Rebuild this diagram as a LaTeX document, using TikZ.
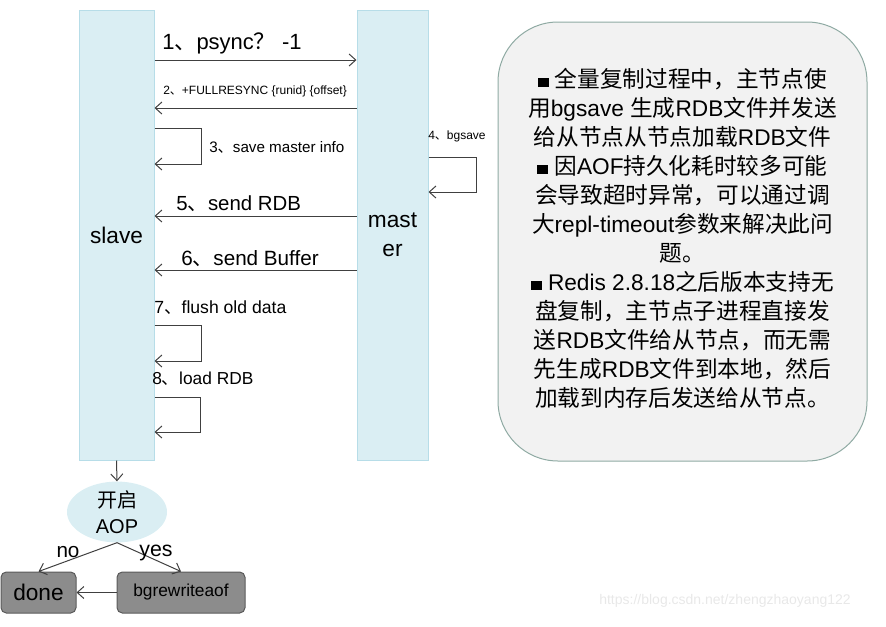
\documentclass[tikz,border=0pt]{standalone}
\usepackage{fontspec}
\setmainfont{Liberation Sans}
\newfontfamily\cjk{Noto Sans CJK SC}
\usetikzlibrary{arrows.meta,shapes.geometric}
\definecolor{colfill}{HTML}{DAEEF3}
\definecolor{colline}{HTML}{B7DDE8}
\definecolor{boxfill}{HTML}{8C8C8C}
\definecolor{boxline}{HTML}{5A5A5A}
\definecolor{notefill}{HTML}{F2F2F2}
\definecolor{noteline}{HTML}{8FAAA3}
\definecolor{arrcol}{HTML}{404040}
\definecolor{wmark}{HTML}{E8E8E8}
\newcommand\zh[1]{{\cjk #1}}
\newcommand\blt{\raisebox{0.5pt}{\rule{8pt}{7pt}}}
\newcommand\fsz[2]{\fontsize{#1}{#2}\selectfont}
\begin{document}
\begin{tikzpicture}[x=0.75pt,y=-0.75pt,
  col/.style={draw=colline, fill=colfill, line width=0.75pt, minimum height=337.5pt, inner sep=0pt, align=center},
  arr/.style={draw=arrcol, line width=0.75pt, -{Straight Barb[length=5pt,width=9pt]}},
  lbl/.style={inner sep=0pt, text=black},
  gbox/.style={draw=boxline, fill=boxfill, rounded corners=4pt, minimum height=30.75pt, inner sep=0pt, line width=0.75pt},
]
\useasboundingbox (0,0) rectangle (886,626);

% columns
\node[col, minimum width=56.25pt, font=\fsz{17pt}{21.75pt}] (slave) at (116.5,235) {slave};
\node[col, minimum width=53.25pt, font=\fsz{17pt}{21.75pt}] (master) at (392.5,235) {mast\\er};

% messages
\draw[arr] (slave.east |- 0,60) coordinate (m1s) -- (master.west |- 0,60) coordinate (m1e);
\node[lbl, anchor=west, font=\fsz{16.5pt}{18pt}] (l1) at (162,43) {1\zh{、}psync\zh{？} -1};

\draw[arr] (master.west |- 0,108) coordinate (m2s) -- (slave.east |- 0,108) coordinate (m2e);
\node[lbl, anchor=west, font=\fsz{9pt}{10pt}] (l2) at (163,91) {2\zh{、}+FULLRESYNC \{runid\} \{offset\}};

\draw[arr] (slave.east |- 0,128) coordinate (m3s) -- (201,128) -- (201,164) -- (slave.east |- 0,164) coordinate (m3e);
\node[lbl, anchor=west, font=\fsz{11.4pt}{13pt}] (l3) at (209,147) {3\zh{、}save master info};

\draw[arr] (master.east |- 0,157) coordinate (m4s) -- (476,157) -- (476,192) -- (master.east |- 0,192) coordinate (m4e);
\node[lbl, anchor=west, font=\fsz{9pt}{10pt}] (l4) at (428,136) {4\zh{、}bgsave};

\draw[arr] (master.west |- 0,216) coordinate (m5s) -- (slave.east |- 0,216) coordinate (m5e);
\node[lbl, anchor=west, font=\fsz{15.3pt}{17pt}] (l5) at (176,204) {5\zh{、}send RDB};

\draw[arr] (master.west |- 0,270) coordinate (m6s) -- (slave.east |- 0,270) coordinate (m6e);
\node[lbl, anchor=west, font=\fsz{15.5pt}{17pt}] (l6) at (181,259) {6\zh{、}send Buffer};

\node[lbl, anchor=west, font=\fsz{13.2pt}{15pt}] (l7) at (154,308) {7\zh{、}flush old data};
\draw[arr] (slave.east |- 0,325) coordinate (m7s) -- (201,325) -- (201,361) -- (slave.east |- 0,361) coordinate (m7e);

\node[lbl, anchor=west, font=\fsz{13pt}{15pt}] (l8) at (152,379) {8\zh{、}load RDB};
\draw[arr] (slave.east |- 0,397) coordinate (m8s) -- (200,397) -- (200,432) -- (slave.east |- 0,432) coordinate (m8e);

% decision part
\node[ellipse, fill=colfill, draw=none, minimum width=75pt, minimum height=37.5pt, inner sep=0pt, align=center, font=\fsz{15pt}{19.5pt}] (aop) at (117,512) {\zh{开启}\\AOP};
\draw[arr] (slave.south) -- (aop.north);

\node[gbox, minimum width=56.25pt, font=\fsz{17pt}{19pt}] (done) at (38.5,592.5) {done};
\node[gbox, minimum width=96pt, font=\fsz{13pt}{15pt}] (bgr) at (181,592.5) {bgrewriteaof};

\draw[arr] (aop.south) -- (done.north);
\draw[arr] (aop.south) -- (bgr.north);
\node[lbl, font=\fsz{15.5pt}{17pt}] (no) at (68,552) {no};
\node[lbl, font=\fsz{16pt}{18pt}] (yes) at (156,553) {yes};
\draw[arr] (bgr.west) -- (done.east);

% note
\node[draw=noteline, fill=notefill, line width=0.75pt, rounded corners=45pt, minimum width=276.75pt, minimum height=329.25pt, inner sep=0pt] (note) at (682.5,241.5) {};
\node[lbl, align=center, font=\fsz{17pt}{21.75pt}] (notetext) at (682.5,238.5) {%
\blt\ \zh{全量复制过程中，主节点使}\\
\zh{用}bgsave \zh{生成}RDB\zh{文件并发送}\\
\zh{给从节点从节点加载}RDB\zh{文件}\\
\blt\ \zh{因}AOF\zh{持久化耗时较多可能}\\
\zh{会导致超时异常，可以通过调}\\
\zh{大}repl-timeout\zh{参数来解决此问}\\
\zh{题。}\\
\blt\ Redis 2.8.18\zh{之后版本支持无}\\
\zh{盘复制，主节点子进程直接发}\\
\zh{送}RDB\zh{文件给从节点，而无需}\\
\zh{先生成}RDB\zh{文件到本地，然后}\\
\zh{加载到内存后发送给从节点。}};

\node[lbl, text=wmark, font=\fsz{10.5pt}{12pt}] (wm) at (725,601) {https://blog.csdn.net/zhengzhaoyang122};
\end{tikzpicture}
\end{document}
